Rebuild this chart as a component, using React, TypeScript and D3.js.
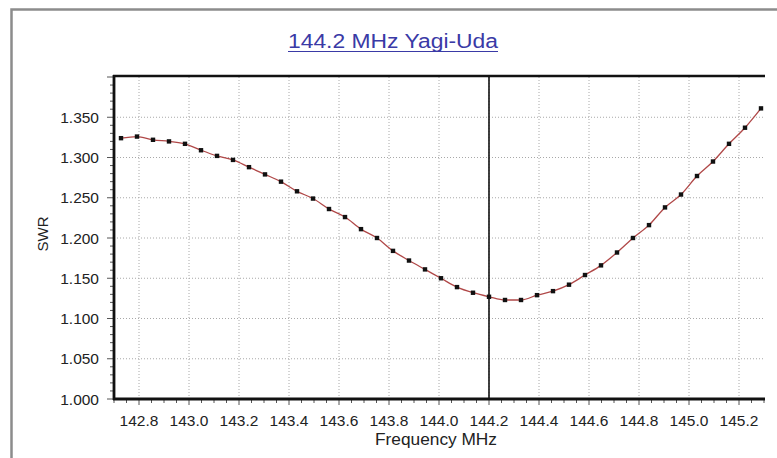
import { useMemo } from 'react';
import * as d3 from 'd3';

// sweep frequencies (MHz) and measured SWR
const freqs = [
  142.728, 142.792, 142.856, 142.92, 142.984, 143.048, 143.112, 143.176, 143.24, 143.304,
  143.368, 143.432, 143.496, 143.56, 143.624, 143.688, 143.752, 143.816, 143.88, 143.944,
  144.008, 144.072, 144.136, 144.2, 144.264, 144.328, 144.392, 144.456, 144.52, 144.584,
  144.648, 144.712, 144.776, 144.84, 144.904, 144.968, 145.032, 145.096, 145.16, 145.224,
  145.288,
];
const swr = [
  1.324, 1.326, 1.322, 1.32, 1.317, 1.309, 1.302, 1.297, 1.288, 1.279,
  1.27, 1.258, 1.249, 1.236, 1.226, 1.211, 1.2, 1.184, 1.172, 1.161,
  1.15, 1.139, 1.132, 1.127, 1.123, 1.123, 1.129, 1.134, 1.142, 1.154,
  1.166, 1.182, 1.2, 1.216, 1.238, 1.254, 1.277, 1.295, 1.317, 1.337,
  1.361,
];
const xTicks = [142.8, 143.0, 143.2, 143.4, 143.6, 143.8, 144.0, 144.2, 144.4, 144.6, 144.8, 145.0, 145.2];
const yTicks = [1.0, 1.05, 1.1, 1.15, 1.2, 1.25, 1.3, 1.35];
const centerFreq = 144.2;
const title = '144.2 MHz Yagi-Uda';

const W = 777;
const H = 458;
const FONT = '"Liberation Sans", Arial, sans-serif';

export default function App() {
  const x = d3.scaleLinear().domain([142.7, 145.3]).range([114, 764]);
  const y = d3.scaleLinear().domain([1.0, 1.4]).range([399, 77]);

  const data = useMemo(() => freqs.map((f, i) => ({ f, v: swr[i] })), []);

  const line = d3
    .line<{ f: number; v: number }>()
    .x((d) => x(d.f))
    .y((d) => y(d.v))
    .curve(d3.curveMonotoneX);

  const minorX = d3.range(0, 53).map((i) => 142.7 + i * 0.05);
  const minorY = d3.range(0, 41).map((i) => 1.0 + i * 0.01);

  const [x0, x1] = x.range();
  const [y0, y1] = y.range();

  return (
    <div style={{ position: 'fixed', left: 0, top: 0 }}>
      <svg width={W} height={H} style={{ display: 'block', background: '#fff' }}>
        {/* panel frame */}
        <path d={`M11.5,${H} V9.5 H${W}`} fill="none" stroke="#8c8c8c" strokeWidth={2.5} />

        {/* title */}
        <text
          x={393}
          y={48}
          textAnchor="middle"
          fontFamily={FONT}
          fontSize={20}
          fill="#3a3aa6"
          textLength={210}
          lengthAdjust="spacingAndGlyphs"
        >
          {title}
        </text>
        <line x1={288} x2={498} y1={51.5} y2={51.5} stroke="#3a3aa6" strokeWidth={1.2} />

        {/* grid */}
        {xTicks.map((t) => (
          <line key={'gx' + t} x1={x(t)} x2={x(t)} y1={y1} y2={y0} stroke="#a8a8a8" strokeDasharray="1,2" />
        ))}
        {yTicks.map((t) => (
          <line key={'gy' + t} x1={x0} x2={x1} y1={y(t)} y2={y(t)} stroke="#a8a8a8" strokeDasharray="1,2" />
        ))}

        {/* minor / major ticks */}
        {minorX.map((t, i) => (
          <line key={'mx' + i} x1={x(t)} x2={x(t)} y1={y0} y2={y0 + (i % 4 === 2 ? 6 : 4)} stroke="#555" />
        ))}
        {minorY.map((t, i) => (
          <line key={'my' + i} x1={x0} x2={x0 - (i % 5 === 0 ? 7 : 4)} y1={y(t)} y2={y(t)} stroke="#555" />
        ))}

        {/* tick labels */}
        {xTicks.map((t) => (
          <text key={'lx' + t} x={x(t)} y={426} textAnchor="middle" fontFamily={FONT} fontSize={15.5} fill="#222">
            {d3.format('.1f')(t)}
          </text>
        ))}
        {yTicks.map((t) => (
          <text
            key={'ly' + t}
            x={99}
            y={y(t) + 5.5}
            textAnchor="end"
            fontFamily={FONT}
            fontSize={15.5}
            fill="#222"
          >
            {d3.format('.3f')(t)}
          </text>
        ))}

        {/* axis titles */}
        <text x={436} y={445} textAnchor="middle" fontFamily={FONT} fontSize={16} fill="#222" textLength={122} lengthAdjust="spacingAndGlyphs">
          Frequency MHz
        </text>
        <text
          transform="translate(48,234) rotate(-90)"
          textAnchor="middle"
          fontFamily={FONT}
          fontSize={15}
          fill="#222"
        >
          SWR
        </text>

        {/* centre marker */}
        <line x1={x(centerFreq)} x2={x(centerFreq)} y1={y1} y2={y0} stroke="#111" strokeWidth={1.6} />

        {/* curve */}
        <path d={line(data) || ''} fill="none" stroke="#b04848" strokeWidth={1.3} />
        {data.map((d, i) => (
          <rect key={i} x={x(d.f) - 2.2} y={y(d.v) - 2.2} width={4.4} height={4.4} fill="#111" />
        ))}

        {/* axes */}
        <line x1={x0 - 1} x2={x1 + 1} y1={y1 - 1} y2={y1 - 1} stroke="#111" strokeWidth={2.6} />
        <line x1={x0} x2={x0} y1={y1 - 2} y2={y0 + 1} stroke="#111" strokeWidth={2.8} />
        <line x1={x0 - 1} x2={x1 + 1} y1={y0} y2={y0} stroke="#111" strokeWidth={2.8} />
      </svg>
    </div>
  );
}
